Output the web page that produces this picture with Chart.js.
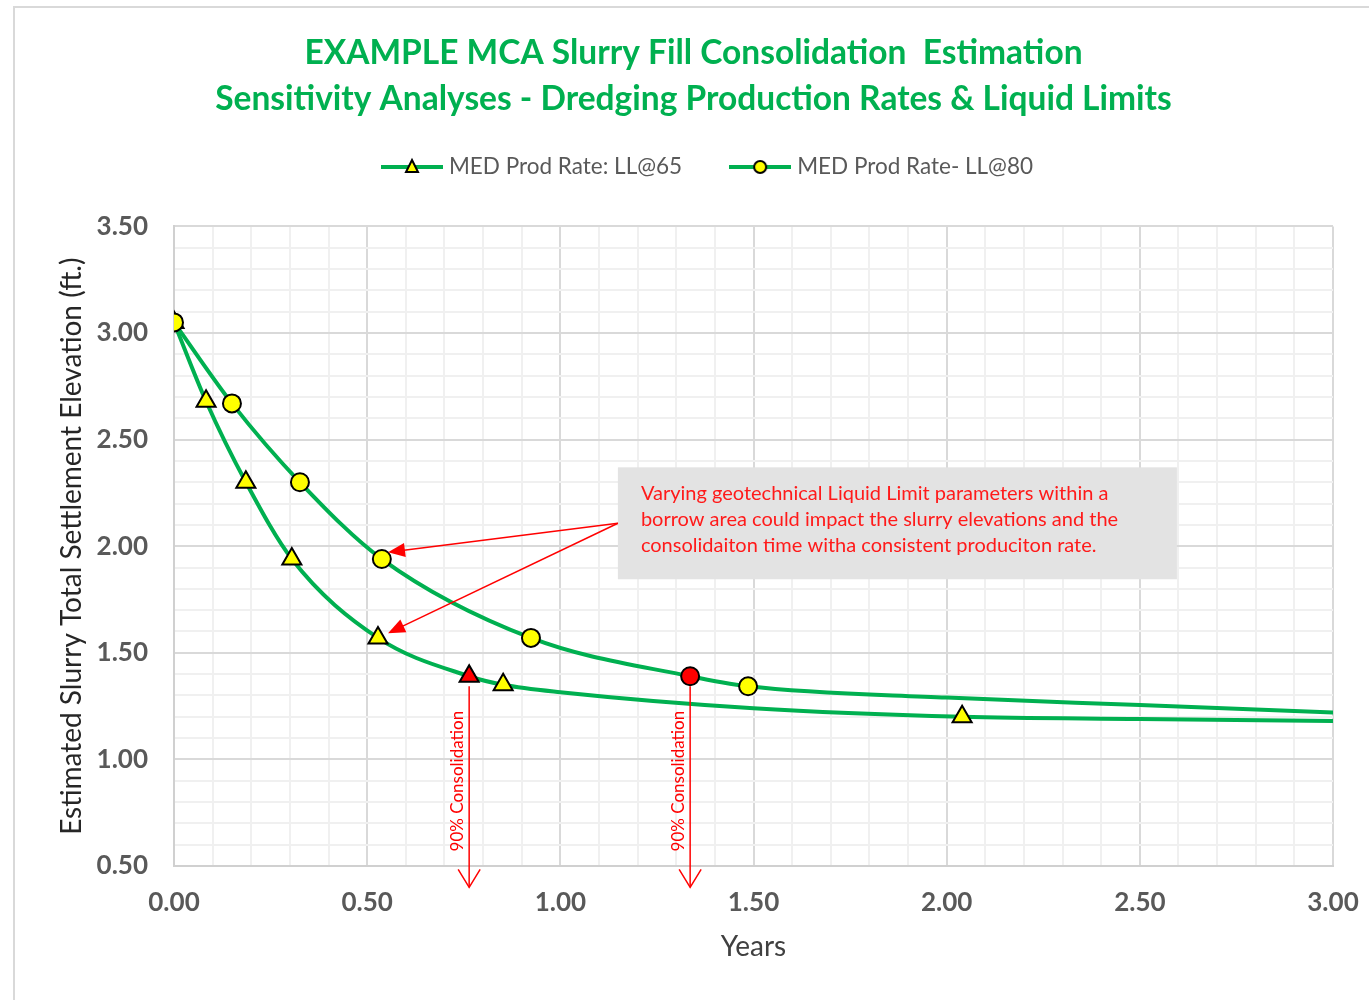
<!DOCTYPE html>
<html>
<head>
<meta charset="utf-8">
<script src="https://cdn.jsdelivr.net/npm/chart.js@4.4.1/dist/chart.umd.min.js"></script>
<style>
  html, body { margin: 0; padding: 0; background: #fff; overflow: hidden; }
  #marco { position: absolute; left: 13px; top: 6px; width: 1400px; height: 1100px;
           border-left: 2px solid #d9d9d9; border-top: 2px solid #d9d9d9; }
  #envoltorio { position: absolute; left: 14px; top: 7px; }
</style>
</head>
<body>
<div id="marco"></div>
<div id="envoltorio"><canvas id="graficoAsentamiento" width="1378" height="993"></canvas></div>
<script>
// Datos
const nombresSeries = ['MED Prod Rate: LL@65', 'MED Prod Rate- LL@80'];
const tituloLineas = ['EXAMPLE MCA Slurry Fill Consolidation  Estimation',
                      'Sensitivity Analyses - Dredging Production Rates & Liquid Limits'];
const xTickLabels = ['0.00', '0.50', '1.00', '1.50', '2.00', '2.50', '3.00'];
const yTickLabels = ['0.50', '1.00', '1.50', '2.00', '2.50', '3.00', '3.50'];

// marcadores (anos, elevacion)
const marcaX65 = [0, 0.083, 0.186, 0.305, 0.528, 0.764, 0.852, 2.04];
const marcaY65 = [3.05, 2.68, 2.30, 1.94, 1.57, 1.39, 1.35, 1.20];
const marcaX80 = [0, 0.15, 0.326, 0.538, 0.924, 1.336, 1.486];
const marcaY80 = [3.05, 2.67, 2.30, 1.94, 1.57, 1.39, 1.343];

// curvas suavizadas
const curvaX65 = [0, 0.083, 0.186, 0.305, 0.528, 0.764, 0.852, 1.0, 1.5, 2.04, 2.5, 3.0];
const curvaY65 = [3.05, 2.68, 2.30, 1.94, 1.57, 1.39, 1.35, 1.315, 1.24, 1.20, 1.19, 1.18];
const curvaX80 = [0, 0.15, 0.326, 0.538, 0.924, 1.336, 1.486, 2.0, 2.5, 3.0];
const curvaY80 = [3.05, 2.67, 2.30, 1.94, 1.57, 1.39, 1.343, 1.29, 1.255, 1.22];

// tiempo de 90% de consolidacion para cada serie
const consolidacion90 = [0.764, 1.336];
const elevacion90 = [1.39, 1.39];

const notaLineas = [
  'Varying geotechnical Liquid Limit parameters within a',
  'borrow area could impact the slurry elevations and the',
  'consolidaiton time witha consistent produciton rate.'
];

const VERDE = '#00B050';
const ROJO = '#ff0000';

const pares = (xs, ys) => xs.map((v, i) => ({ x: v, y: ys[i] }));
const esMayor = v => Math.abs(v * 2 - Math.round(v * 2)) < 1e-6;

// icono de leyenda: linea con marcador
function iconoLeyenda(estilo) {
  const c = document.createElement('canvas');
  c.width = 62; c.height = 20;
  const g = c.getContext('2d');
  g.strokeStyle = VERDE; g.lineWidth = 4;
  g.beginPath(); g.moveTo(0, 10); g.lineTo(62, 10); g.stroke();
  g.fillStyle = '#ffff00'; g.strokeStyle = '#000'; g.lineWidth = 2;
  g.beginPath();
  if (estilo === 'triangle') {
    g.moveTo(31, 3); g.lineTo(37, 15); g.lineTo(25, 15); g.closePath();
  } else {
    g.arc(31, 10, 6, 0, Math.PI * 2);
  }
  g.fill(); g.stroke();
  return c;
}

const notas = {
  id: 'notas',
  beforeDatasetsDraw(chart) {
    const { ctx, scales: { x, y } } = chart;
    const bx0 = x.getPixelForValue(1.149), bx1 = x.getPixelForValue(2.596);
    const by0 = y.getPixelForValue(2.37), by1 = y.getPixelForValue(1.845);
    ctx.save();
    ctx.fillStyle = '#e3e3e3';
    ctx.fillRect(bx0, by0, bx1 - bx0, by1 - by0);
    ctx.fillStyle = '#ff1a1a';
    ctx.font = '20px Lato';
    ctx.textBaseline = 'middle';
    notaLineas.forEach((t, i) => ctx.fillText(t, bx0 + 23, by0 + 26 + i * 26));
    ctx.restore();
  },
  afterDatasetsDraw(chart) {
    const { ctx, scales: { x, y } } = chart;
    ctx.save();
    ctx.strokeStyle = ROJO; ctx.fillStyle = ROJO;
    // flechas desde la caja hacia las curvas
    const ox = x.getPixelForValue(1.149), oy = y.getPixelForValue(2.108);
    [[0.554, 1.972], [0.554, 1.592]].forEach(([tx, ty]) => {
      const px = x.getPixelForValue(tx), py = y.getPixelForValue(ty);
      const ang = Math.atan2(py - oy, px - ox);
      ctx.lineWidth = 1.5;
      ctx.beginPath(); ctx.moveTo(ox, oy);
      ctx.lineTo(px - Math.cos(ang) * 14, py - Math.sin(ang) * 14); ctx.stroke();
      ctx.beginPath();
      ctx.moveTo(px, py);
      ctx.lineTo(px - Math.cos(ang) * 17 + Math.sin(ang) * 7, py - Math.sin(ang) * 17 - Math.cos(ang) * 7);
      ctx.lineTo(px - Math.cos(ang) * 17 - Math.sin(ang) * 7, py - Math.sin(ang) * 17 + Math.cos(ang) * 7);
      ctx.closePath(); ctx.fill();
    });
    // flechas verticales de 90% de consolidacion
    consolidacion90.forEach((t, i) => {
      const px = x.getPixelForValue(t);
      const py0 = y.getPixelForValue(elevacion90[i]) + 10;
      const py1 = y.getPixelForValue(0.40);
      ctx.lineWidth = 1.5;
      ctx.beginPath(); ctx.moveTo(px, py0); ctx.lineTo(px, py1); ctx.stroke();
      ctx.beginPath();
      ctx.moveTo(px - 11, py1 - 18); ctx.lineTo(px, py1); ctx.lineTo(px + 11, py1 - 18);
      ctx.stroke();
      ctx.save();
      ctx.translate(px - 12, y.getPixelForValue(0.898));
      ctx.rotate(-Math.PI / 2);
      ctx.font = '17px Lato';
      ctx.textAlign = 'center'; ctx.textBaseline = 'middle';
      ctx.fillText('90% Consolidation', 0, 0);
      ctx.restore();
    });
    ctx.restore();
  },
  afterDraw(chart) {
    // leyenda dibujada a mano
    const ctx = chart.ctx;
    ctx.save();
    ctx.font = '22.5px Lato';
    ctx.fillStyle = '#595959';
    ctx.textBaseline = 'middle';
    const iconos = [iconoLeyenda('triangle'), iconoLeyenda('circle')];
    const anchos = nombresSeries.map(n => ctx.measureText(n).width);
    const total = 62 + 6 + anchos[0] + 47 + 62 + 6 + anchos[1];
    let cx = 693 - total / 2;
    const cy = 160;
    nombresSeries.forEach((n, i) => {
      ctx.drawImage(iconos[i], cx, cy - 10);
      cx += 68;
      ctx.fillText(n, cx, cy);
      cx += anchos[i] + 47;
    });
    ctx.restore();
  }
};

const colorGrid = ctx => esMayor(ctx.tick.value) ? '#d9d9d9' : '#f0f0f0';

const ctx = document.getElementById('graficoAsentamiento').getContext('2d');
const grafico = new Chart(ctx, {
  type: 'scatter',
  data: {
    datasets: [
      {
        label: nombresSeries[1] + ' marcas',
        data: pares(marcaX80, marcaY80),
        showLine: false,
        pointStyle: 'circle',
        pointRadius: 9,
        pointBorderWidth: 2,
        pointBorderColor: '#000',
        pointBackgroundColor: c => consolidacion90.includes(marcaX80[c.dataIndex]) ? ROJO : '#ffff00',
        order: 0
      },
      {
        label: nombresSeries[0] + ' marcas',
        data: pares(marcaX65, marcaY65),
        showLine: false,
        pointStyle: 'triangle',
        pointRadius: 11,
        pointBorderWidth: 2,
        pointBorderColor: '#000',
        pointBackgroundColor: c => consolidacion90.includes(marcaX65[c.dataIndex]) ? ROJO : '#ffff00',
        order: 1
      },
      {
        label: nombresSeries[0],
        data: pares(curvaX65, curvaY65),
        showLine: true,
        borderColor: VERDE,
        borderWidth: 4,
        pointRadius: 0,
        cubicInterpolationMode: 'monotone',
        order: 2
      },
      {
        label: nombresSeries[1],
        data: pares(curvaX80, curvaY80),
        showLine: true,
        borderColor: VERDE,
        borderWidth: 4,
        pointRadius: 0,
        cubicInterpolationMode: 'monotone',
        order: 2
      }
    ]
  },
  options: {
    responsive: false,
    animation: false,
    layout: { padding: { left: 40, right: 59, top: 0, bottom: 14 } },
    plugins: {
      legend: { display: false },
      tooltip: { enabled: false },
      title: {
        display: true,
        text: tituloLineas,
        color: VERDE,
        font: { family: 'Lato', weight: 'bold', size: 33.5, lineHeight: 1.35 },
        padding: { top: 24, bottom: 105 }
      }
    },
    scales: {
      x: {
        type: 'linear',
        min: 0, max: 3,
        afterFit: s => { s.height = 120; },
        border: { display: true, color: '#d0d0d0', width: 2 },
        grid: { color: colorGrid, lineWidth: 2, drawTicks: false },
        ticks: {
          stepSize: 0.1,
          autoSkip: false,
          maxRotation: 0,
          padding: 21,
          color: '#595959',
          font: { family: 'Lato', weight: 'bold', size: 26 },
          callback: v => esMayor(v) ? xTickLabels[Math.round(v * 2)] : ''
        },
        title: {
          display: true,
          text: 'Years',
          color: '#404040',
          font: { family: 'Lato', size: 28 },
          padding: { top: 0, bottom: 22 }
        }
      },
      y: {
        type: 'linear',
        min: 0.5, max: 3.5,
        afterFit: s => { s.width = 120; },
        border: { display: true, color: '#d0d0d0', width: 2 },
        grid: { color: colorGrid, lineWidth: 2, drawTicks: false },
        ticks: {
          stepSize: 0.1,
          autoSkip: false,
          padding: 26,
          color: '#595959',
          font: { family: 'Lato', weight: 'bold', size: 26 },
          callback: v => esMayor(v) ? yTickLabels[Math.round(v * 2) - 1] : ''
        },
        title: {
          display: true,
          text: 'Estimated Slurry Total Settlement Elevation (ft.)',
          color: '#262626',
          font: { family: 'Lato', size: 28 },
          padding: { top: 1, bottom: 0 }
        }
      }
    }
  },
  plugins: [notas]
});
</script>
</body>
</html>
